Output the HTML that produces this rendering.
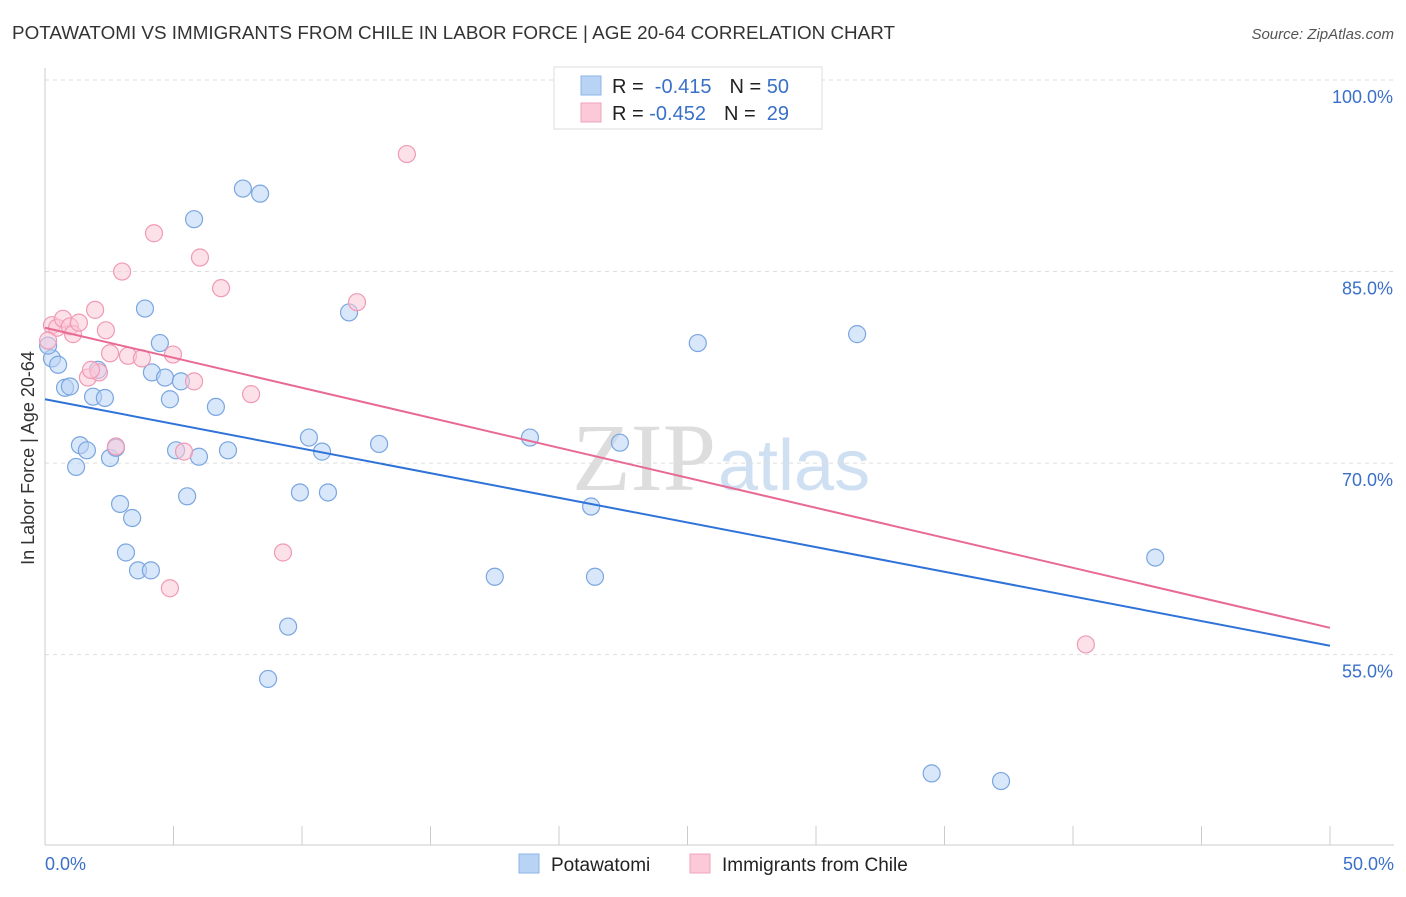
<!DOCTYPE html>
<html><head><meta charset="utf-8"><style>
body{margin:0;background:#fff;font-family:"Liberation Sans",sans-serif;}
svg text{font-family:"Liberation Sans",sans-serif;}
</style></head><body>
<svg id="chart" width="1406" height="892" xmlns="http://www.w3.org/2000/svg">
<text x="12" y="39" font-size="18" fill="#333" textLength="883" lengthAdjust="spacingAndGlyphs">POTAWATOMI VS IMMIGRANTS FROM CHILE IN LABOR FORCE | AGE 20-64 CORRELATION CHART</text>
<text x="1394" y="39" font-size="15" fill="#555" font-style="italic" text-anchor="end">Source: ZipAtlas.com</text>
<text x="716" y="490" font-size="96" fill="#ddd" text-anchor="end" style="font-family:'Liberation Serif',serif">ZIP</text>
<text x="718" y="490" font-size="72" fill="#cfe0f2">atlas</text>
<g id="grid"></g><g id="axes"></g><g id="marks"></g>
<text transform="translate(34,458) rotate(-90)" font-size="18" fill="#333" text-anchor="middle">In Labor Force | Age 20-64</text>
<text x="45" y="870" font-size="18" fill="#3a70c8">0.0%</text>
<text x="1394" y="870" font-size="18" fill="#3a70c8" text-anchor="end">50.0%</text>
<g>
<rect x="554" y="67" width="268" height="62" fill="#fff" stroke="#ddd"/>
<rect x="581" y="76" width="20" height="19" fill="#b9d3f5" stroke="#8cb4e8"/>
<rect x="581" y="103" width="20" height="19" fill="#fbc9d7" stroke="#f2a3bb"/>
<text x="612" y="93" font-size="20" fill="#222">R = <tspan fill="#3a70c8">&#160;-0.415</tspan><tspan dx="18">N = </tspan><tspan fill="#3a70c8">50</tspan></text>
<text x="612" y="120" font-size="20" fill="#222">R = <tspan fill="#3a70c8">-0.452</tspan><tspan dx="18">N = </tspan><tspan fill="#3a70c8">&#160;29</tspan></text>
</g>
<g>
<rect x="519" y="854" width="20" height="19" fill="#b9d3f5" stroke="#8cb4e8"/>
<text x="551" y="871" font-size="19" fill="#222">Potawatomi</text>
<rect x="690" y="854" width="20" height="19" fill="#fbc9d7" stroke="#f2a3bb"/>
<text x="722" y="871" font-size="19" fill="#222">Immigrants from Chile</text>
</g>
</svg>
<script>
const yTicks=[100,85,70,55];
const yTickLabels=["100.0%","85.0%","70.0%","55.0%"];
const xTicks=[0,5,10,15,20,25,30,35,40,45,50];
const blueX=[0.27,0.51,0.78,0.97,1.87,2.33,2.06,1.36,1.63,1.21,2.53,2.76,2.92,3.39,3.15,3.62,4.12,3.89,4.47,4.16,4.67,4.86,5.29,5.80,5.10,5.99,5.53,6.65,7.12,7.70,8.37,8.68,9.46,9.92,10.27,10.78,11.01,11.83,13.0,17.5,18.87,21.25,21.4,22.37,25.4,31.6,34.5,37.2,43.2,0.12];
const blueY=[78.2,77.7,75.9,76.0,75.2,75.1,77.3,71.4,71.0,69.7,70.4,71.2,66.8,65.7,63.0,61.6,61.6,82.1,79.4,77.1,76.7,75.0,76.4,89.1,71.0,70.5,67.4,74.4,71.0,91.5,91.1,53.1,57.2,67.7,72.0,70.9,67.7,81.8,71.5,61.1,72.0,66.6,61.1,71.6,79.4,80.1,45.7,45.1,62.6,79.2];
const pinkX=[0.27,0.47,0.70,0.97,1.09,1.32,1.95,2.37,2.53,3.23,3.77,1.67,2.1,2.76,3.0,4.24,4.98,5.41,4.86,5.80,6.03,6.85,8.02,9.26,12.14,14.08,40.5,0.12,1.79];
const pinkY=[80.8,80.6,81.3,80.7,80.1,81.0,82.0,80.4,78.6,78.4,78.2,76.7,77.1,71.3,85.0,88.0,78.5,70.9,60.2,76.4,86.1,83.7,75.4,63.0,82.6,94.2,55.8,79.6,77.3];
const blueTrend=[75.0,55.7];
const pinkTrend=[80.6,57.1];
const NS="http://www.w3.org/2000/svg";
const xs=v=>45+v*25.7, ys=v=>80+(100-v)*12.77;
function mk(t,a,p){const e=document.createElementNS(NS,t);for(const k in a)e.setAttribute(k,a[k]);p.appendChild(e);return e;}
const grid=document.getElementById('grid'),axes=document.getElementById('axes'),marks=document.getElementById('marks');
yTicks.forEach((t,i)=>{const l=mk('line',{x1:45,x2:1394,y1:ys(t),y2:ys(t),stroke:'#ddd','stroke-dasharray':'4,4'},grid);


const tx=mk('text',{x:1393,y:ys(t)+23,'font-size':18,fill:'#3a70c8','text-anchor':'end'},grid);tx.textContent=yTickLabels[i];

});
const ax=mk('line',{x1:45,x2:45,y1:68,y2:845,stroke:'#ccc'},axes);


const bx=mk('line',{x1:45,x2:1394,y1:845,y2:845,stroke:'#ccc'},axes);


xTicks.forEach(t=>{const l=mk('line',{x1:xs(t),x2:xs(t),y1:826,y2:845,stroke:'#ccc'},axes);

});
function pts(X,Y,fill,stroke,name){X.forEach((x,i)=>{const c=mk('circle',{cx:xs(x),cy:ys(Y[i]),r:8.5,fill:fill,'fill-opacity':0.55,stroke:stroke,'stroke-width':1.2},marks);

});}
pts(blueX,blueY,'#b9d3f5','#7aa6e0','potawatomi-point');
pts(pinkX,pinkY,'#fbc9d7','#f09ab5','chile-point');
const bl=mk('line',{x1:xs(0),y1:ys(blueTrend[0]),x2:xs(50),y2:ys(blueTrend[1]),stroke:'#2f72d8','stroke-width':2},marks);


const pl=mk('line',{x1:xs(0),y1:ys(pinkTrend[0]),x2:xs(50),y2:ys(pinkTrend[1]),stroke:'#e86a94','stroke-width':2},marks);


</script>
</body></html>
